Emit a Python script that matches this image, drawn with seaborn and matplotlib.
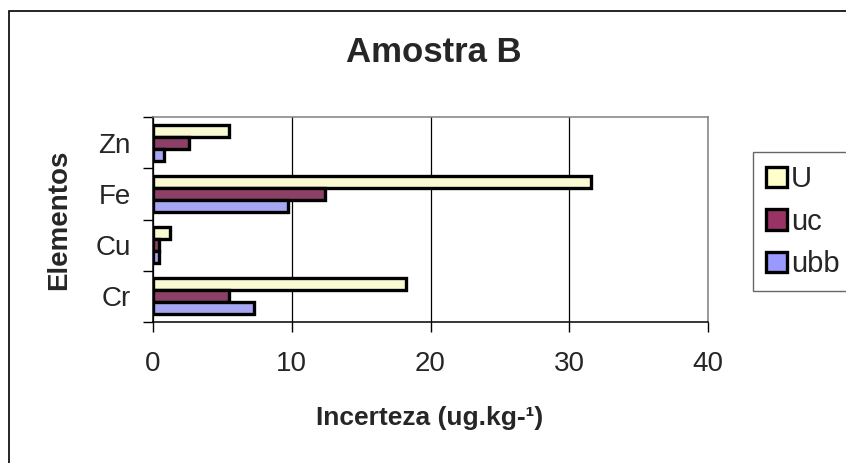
import matplotlib
matplotlib.use("Agg")
import matplotlib.pyplot as plt
from matplotlib.patches import Patch, Rectangle
import seaborn as sns
import pandas as pd

elementos = ["Zn", "Fe", "Cu", "Cr"]
series = ["U", "uc", "ubb"]
U_vals = [5.5, 31.6, 1.2, 18.2]
uc_vals = [2.6, 12.4, 0.4, 5.5]
ubb_vals = [0.8, 9.7, 0.4, 7.3]
colors = {"U": "#FFFFCC", "uc": "#993366", "ubb": "#9999FF"}
xticks = [0, 10, 20, 30, 40]

rows = []
for name, vals in zip(series, [U_vals, uc_vals, ubb_vals]):
    for el, v in zip(elementos, vals):
        rows.append({"Elemento": el, "Serie": name, "Valor": v})
df = pd.DataFrame(rows)

sns.set_style("white")
plt.rcParams["font.family"] = ["Liberation Sans", "DejaVu Sans"]

W, H = 846, 463
fig = plt.figure(figsize=(W / 100, H / 100), dpi=100)
ax = fig.add_axes([153 / W, 1 - 322 / H, (708 - 153) / W, (322 - 117) / H])

sns.barplot(data=df, y="Elemento", x="Valor", hue="Serie", order=elementos,
            hue_order=series, palette=colors, orient="h", width=0.7,
            edgecolor="black", linewidth=2.4, legend=False, ax=ax,
            errorbar=None)

ax.set_xlim(0, 40)
ax.set_ylim(3.5, -0.5)
ax.set_xticks(xticks)
ax.set_xticklabels([str(t) for t in xticks], fontsize=20)
ax.tick_params(axis="x", which="major", length=7, width=1, color="black",
               direction="out", pad=14, bottom=True)
ax.set_yticks(range(len(elementos)))
ax.set_yticklabels(elementos, fontsize=20)
ax.set_yticks([-0.5, 0.5, 1.5, 2.5, 3.5], minor=True)
ax.tick_params(axis="y", which="major", length=0, pad=16)
ax.tick_params(axis="y", which="minor", length=7, width=1, color="black",
               direction="out", left=True)

ax.xaxis.grid(True, color="black", linewidth=0.9)
ax.yaxis.grid(False)
ax.set_axisbelow(True)

for s in ["left", "bottom"]:
    ax.spines[s].set_color("black")
    ax.spines[s].set_linewidth(1.1)
for s in ["top", "right"]:
    ax.spines[s].set_color("#808080")
    ax.spines[s].set_linewidth(1.1)

ax.set_xlabel("")
ax.set_ylabel("")

fig.text(434 / W, 1 - 53 / H, "Amostra B", fontsize=25, fontweight="bold",
         ha="center", va="center")
fig.text(430 / W, 1 - 418 / H, "Incerteza (ug.kg-¹)", fontsize=19,
         fontweight="bold", ha="center", va="center")
fig.text(59 / W, 1 - 220 / H, "Elementos", fontsize=20, fontweight="bold",
         ha="center", va="center", rotation=90)

handles = [Patch(facecolor=colors[s], edgecolor="black", linewidth=2.4, label=s)
           for s in series]
leg = fig.legend(handles=handles, loc="upper left",
                 bbox_to_anchor=(753 / W, 1 - 152 / H), fontsize=21,
                 frameon=True, fancybox=False, handlelength=0.7,
                 handleheight=0.7, handletextpad=0.15, labelspacing=0.5,
                 borderpad=0.45, borderaxespad=0)
leg.get_frame().set_edgecolor("#404040")
leg.get_frame().set_linewidth(1)

fig.add_artist(Rectangle((9 / W, -0.1), 2, 1 - 11 / H + 0.1,
                         transform=fig.transFigure, fill=False,
                         edgecolor="black", linewidth=1.2, clip_on=False))

fig.savefig("out.png", dpi=100)
